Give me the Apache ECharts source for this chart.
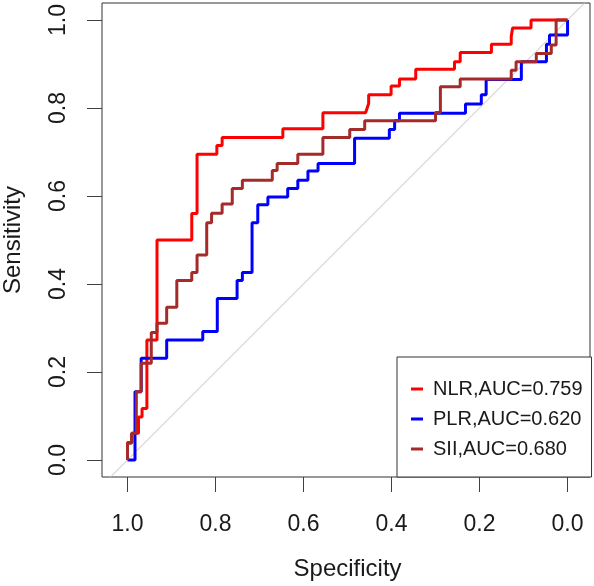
<!DOCTYPE html>
<html>
<head>
<meta charset="utf-8">
<script src="https://cdn.jsdelivr.net/npm/echarts@6/dist/echarts.min.js"></script>
<style>html,body{margin:0;padding:0;background:#fff;}#c{width:594px;height:586px;}</style>
</head>
<body>
<div id="c"></div>
<script>
// ---- data (specificity, sensitivity) ----
const nlrSpec = [1.0,1.0,0.99,0.99,0.975,0.975,0.967,0.967,0.956,0.956,0.933,0.933,0.854,0.854,0.842,0.842,0.797,0.797,0.785,0.785,0.647,0.647,0.556,0.556,0.459,0.452,0.452,0.401,0.401,0.382,0.382,0.345,0.345,0.257,0.257,0.244,0.244,0.173,0.173,0.128,0.128,0.125,0.125,0.083,0.083,0.0];
const nlrSens = [0.0,0.04,0.04,0.061,0.061,0.098,0.098,0.117,0.117,0.273,0.273,0.5,0.5,0.56,0.56,0.695,0.695,0.715,0.715,0.733,0.733,0.753,0.753,0.789,0.789,0.81,0.83,0.83,0.85,0.85,0.866,0.866,0.888,0.888,0.905,0.905,0.926,0.926,0.945,0.945,0.962,0.962,0.982,0.982,1.0,1.0];

const plrSpec = [1.0,0.983,0.983,0.969,0.969,0.911,0.911,0.829,0.829,0.796,0.796,0.751,0.751,0.739,0.739,0.717,0.717,0.704,0.704,0.681,0.681,0.636,0.636,0.613,0.613,0.59,0.59,0.567,0.567,0.484,0.484,0.405,0.405,0.393,0.393,0.382,0.382,0.232,0.232,0.196,0.196,0.185,0.185,0.105,0.105,0.048,0.048,0.041,0.041,0.0,0.0];
const plrSens = [0.0,0.0,0.155,0.155,0.231,0.231,0.273,0.273,0.292,0.292,0.367,0.367,0.408,0.408,0.426,0.426,0.539,0.539,0.58,0.58,0.598,0.598,0.617,0.617,0.636,0.636,0.657,0.657,0.674,0.674,0.731,0.731,0.751,0.751,0.771,0.771,0.788,0.788,0.809,0.809,0.83,0.83,0.865,0.865,0.905,0.905,0.945,0.945,0.966,0.966,1.0];

const siiSpec = [1.0,1.0,0.991,0.991,0.98,0.98,0.969,0.969,0.946,0.946,0.933,0.933,0.911,0.911,0.888,0.888,0.854,0.854,0.842,0.842,0.82,0.82,0.809,0.809,0.785,0.785,0.762,0.762,0.739,0.739,0.671,0.671,0.66,0.66,0.613,0.613,0.556,0.556,0.495,0.495,0.461,0.461,0.3,0.3,0.289,0.289,0.244,0.244,0.128,0.128,0.117,0.117,0.071,0.071,0.037,0.037,0.026,0.026,0.0];
const siiSens = [0.0,0.038,0.038,0.061,0.061,0.155,0.155,0.22,0.22,0.29,0.29,0.311,0.311,0.347,0.347,0.408,0.408,0.426,0.426,0.466,0.466,0.539,0.539,0.561,0.561,0.582,0.582,0.617,0.617,0.636,0.636,0.658,0.658,0.674,0.674,0.695,0.695,0.733,0.733,0.751,0.751,0.771,0.771,0.79,0.79,0.848,0.848,0.866,0.866,0.886,0.886,0.905,0.905,0.924,0.924,0.943,0.943,1.0,1.0];

// reference diagonal (sensitivity = 1 - specificity)
const diagSpec = [1.2, -0.2];
const diagSens = [-0.2, 1.2];

const seriesNames = ['NLR,AUC=0.759', 'PLR,AUC=0.620', 'SII,AUC=0.680'];
const tickLabels = ['0.0', '0.2', '0.4', '0.6', '0.8', '1.0'];
const xTitle = 'Specificity';
const yTitle = 'Sensitivity';

// ---- build ----
const zip = (a, b) => a.map((v, i) => [v, b[i]]);
const FONT = "'Liberation Sans', Arial, sans-serif";
const labelFmt = v => tickLabels[Math.round(v * 5)] || '';

// plot box (extended range) and the [0,1] tick frame
const BOX = {left: 102, right: 4, top: 3, bottom: 109};
const XLO = -0.051, XHI = 1.058, YLO = -0.0386, YHI = 1.0386;
const W = 594 - BOX.left - BOX.right, H = 586 - BOX.top - BOX.bottom;
const kx = W / (XHI - XLO), ky = H / (YHI - YLO);
const FRAME = {
  left: BOX.left + (XHI - 1) * kx,
  right: BOX.right + (0 - XLO) * kx,
  top: BOX.top + (YHI - 1) * ky,
  bottom: BOX.bottom + (0 - YLO) * ky
};

const chart = echarts.init(document.getElementById('c'), null, {renderer: 'canvas'});
const lineSeries = (name, spec, sens, color) => ({
  name, type: 'line', data: zip(spec, sens), symbol: 'none', showSymbol: false,
  lineStyle: {color, width: 3}, itemStyle: {color}, animation: false, clip: true,
  xAxisIndex: 0, yAxisIndex: 0, emphasis: {disabled: true}
});
const hiddenAxis = {show: false};
const tickStyle = {show: true, length: 15, lineStyle: {color: '#404040', width: 1}};
const txt = {fontFamily: FONT, fontSize: 23, color: '#1a1a1a'};
const titleTxt = {fontFamily: FONT, fontSize: 24, color: '#1a1a1a'};

chart.setOption({
  animation: false,
  backgroundColor: '#fff',
  grid: [
    Object.assign({show: true, borderColor: '#333', borderWidth: 1, backgroundColor: 'transparent', outerBoundsMode: 'none', containLabel: false}, BOX),
    Object.assign({show: false, outerBoundsMode: 'none', containLabel: false}, FRAME)
  ],
  xAxis: [
    Object.assign({type: 'value', gridIndex: 0, inverse: true, min: XLO, max: XHI}, hiddenAxis),
    {
      type: 'value', gridIndex: 1, inverse: true, min: 0, max: 1, interval: 0.2, position: 'bottom',
      offset: FRAME.bottom - BOX.bottom,
      name: xTitle, nameLocation: 'middle', nameGap: 80, nameTextStyle: titleTxt,
      axisLine: {show: false, onZero: false}, splitLine: {show: false}, axisTick: tickStyle,
      axisLabel: Object.assign({formatter: labelFmt, margin: 36, showMinLabel: true, showMaxLabel: true, hideOverlap: false}, txt)
    }
  ],
  yAxis: [
    Object.assign({type: 'value', gridIndex: 0, min: YLO, max: YHI}, hiddenAxis),
    {
      type: 'value', gridIndex: 1, min: 0, max: 1, interval: 0.2, position: 'left',
      offset: FRAME.left - BOX.left,
      name: yTitle, nameLocation: 'middle', nameGap: 77, nameRotate: 90, nameTextStyle: titleTxt,
      axisLine: {show: false, onZero: false}, splitLine: {show: false}, axisTick: tickStyle,
      axisLabel: Object.assign({formatter: labelFmt, rotate: 90, margin: 32, showMinLabel: true, showMaxLabel: true, hideOverlap: false}, txt)
    }
  ],
  legend: {
    data: seriesNames, orient: 'vertical', left: 397, top: 357,
    padding: [22, 9, 18, 14], itemGap: 10, itemWidth: 12, itemHeight: 3, icon: 'rect',
    borderColor: '#333', borderWidth: 1, backgroundColor: '#fff',
    textStyle: {fontFamily: FONT, fontSize: 20, color: '#1a1a1a', lineHeight: 20, padding: [0, 0, 0, 5]},
    selectedMode: false
  },
  series: [
    {type: 'line', data: zip(diagSpec, diagSens), symbol: 'none', lineStyle: {color: '#c0c0c0', width: 1}, clip: true, silent: true, z: 1, xAxisIndex: 0, yAxisIndex: 0},
    lineSeries(seriesNames[0], nlrSpec, nlrSens, '#ff0000'),
    lineSeries(seriesNames[1], plrSpec, plrSens, '#0000ff'),
    lineSeries(seriesNames[2], siiSpec, siiSens, '#a52a2a')
  ]
});
</script>
</body>
</html>
